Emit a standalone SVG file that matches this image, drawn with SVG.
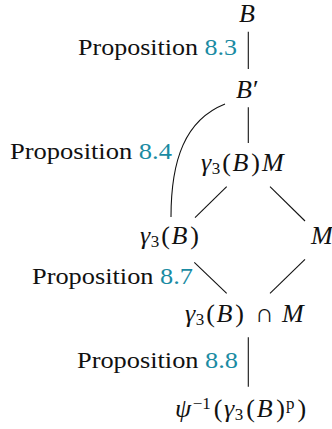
<svg xmlns="http://www.w3.org/2000/svg" width="332" height="429" viewBox="0 0 332 429">
<style>
.t{font-family:'Liberation Serif',serif;font-size:24px;fill:#111}
.m{font-size:26px;font-style:italic}
.u{font-style:normal}
.s{font-size:17px;font-style:normal}
.ref{fill:#1a8ba3}
.e{stroke:#111;stroke-width:1.1;fill:none}
</style>
<rect width="332" height="429" fill="#fff"/>
<g id="connectors">
<line class="e" x1="248.3" y1="31.7" x2="248.3" y2="69"/>
<line class="e" x1="248.3" y1="107.3" x2="248.3" y2="143"/>
<path class="e" d="M225,104 C185,120 171,160 171,217"/>
<line class="e" x1="226.7" y1="186.7" x2="195" y2="217.7"/>
<line class="e" x1="270" y1="186.7" x2="305" y2="221"/>
<line class="e" x1="194.3" y1="262.3" x2="226.7" y2="293.3"/>
<line class="e" x1="305" y1="259.3" x2="270" y2="293.3"/>
<line class="e" x1="248.3" y1="337.3" x2="248.3" y2="386.7"/>
</g>
<g id="labels">
<text class="t" x="78" y="55" textLength="159" lengthAdjust="spacingAndGlyphs">Proposition <tspan class="ref">8.3</tspan></text>
<text class="t" x="10" y="159" textLength="162" lengthAdjust="spacingAndGlyphs">Proposition <tspan class="ref">8.4</tspan></text>
<text class="t" x="32" y="284" textLength="161" lengthAdjust="spacingAndGlyphs">Proposition <tspan class="ref">8.7</tspan></text>
<text class="t" x="77" y="367.7" textLength="161" lengthAdjust="spacingAndGlyphs">Proposition <tspan class="ref">8.8</tspan></text>
</g>
<g id="node-B"><text class="t m" x="239" y="22">B</text></g>
<g id="node-Bprime"><text class="t m" x="236" y="98.3">B<tspan class="u" dx="1">′</tspan></text></g>
<g id="node-g3BM"><text class="t m" x="201" y="171">γ<tspan class="s" dx="0.5" dy="3">3</tspan><tspan class="u" dx="2" dy="-3">(</tspan><tspan dx="1.5">B</tspan><tspan class="u" dx="3">)</tspan><tspan dx="2">M</tspan></text></g>
<g id="node-g3B"><text class="t m" x="140" y="244">γ<tspan class="s" dx="0.5" dy="3">3</tspan><tspan class="u" dx="2" dy="-3">(</tspan><tspan dx="1.5">B</tspan><tspan class="u" dx="3">)</tspan></text></g>
<g id="node-M"><text class="t m" x="311" y="244">M</text></g>
<g id="node-g3BcapM"><text class="t m" x="185" y="322">γ<tspan class="s" dx="0.5" dy="3">3</tspan><tspan class="u" dx="2" dy="-3">(</tspan><tspan dx="1.5">B</tspan><tspan class="u" dx="3">)</tspan><tspan class="u" x="255">∩</tspan><tspan x="282">M</tspan></text></g>
<g id="node-psi"><text class="t m" x="175" y="417">ψ<tspan class="s" dx="1.5" dy="-8">−1</tspan><tspan class="u" dx="3" dy="8">(</tspan><tspan dx="1.5">γ</tspan><tspan class="s" dx="0.5" dy="3">3</tspan><tspan class="u" dx="3" dy="-3">(</tspan><tspan dx="2">B</tspan><tspan class="u" dx="3.5">)</tspan><tspan class="s" font-style="italic" dx="1" dy="-8">p</tspan><tspan class="u" dx="3" dy="8">)</tspan></text></g>
</svg>
